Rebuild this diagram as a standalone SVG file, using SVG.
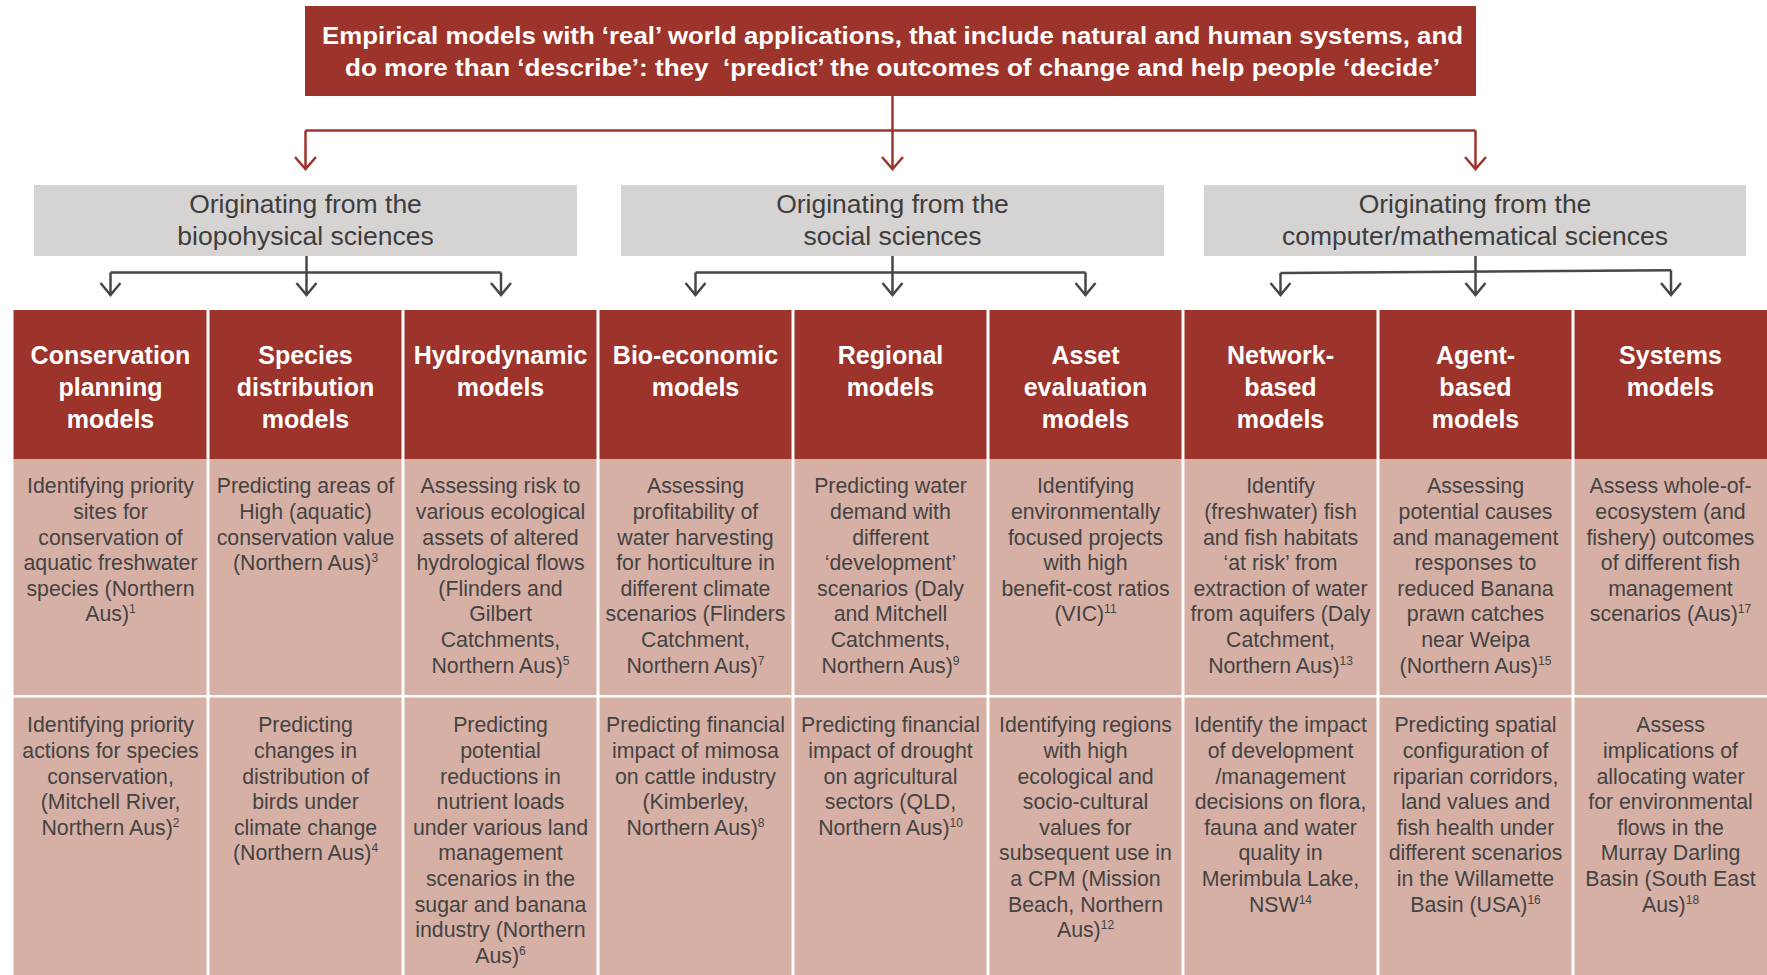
<svg xmlns="http://www.w3.org/2000/svg" width="1767" height="975" viewBox="0 0 1767 975">
<style>
text{font-family:"Liberation Sans",Arial,sans-serif;text-anchor:middle}
.title{font-weight:bold;font-size:24px;fill:#fff}
.grp{font-size:26.5px;fill:#3d3d3d}
.hd{font-weight:bold;font-size:25px;fill:#fff}
.bd{font-size:21.3px;fill:#434343}
.sup{font-size:12px}
.red{fill:#9d342c}
.pink{fill:#d7b0a5}
.gray{fill:#d6d3d3}
.cr{stroke:#9d342c;stroke-width:2.5;fill:none}
.cg{stroke:#474747;stroke-width:2.5;fill:none}
</style>
<defs>
<marker id="arR" markerUnits="userSpaceOnUse" markerWidth="30" markerHeight="30" refX="0" refY="0" orient="auto" overflow="visible">
<path d="M-12,-10.5 L0,0 L-12,10.5" fill="none" stroke="#9d342c" stroke-width="2.5"/>
</marker>
<marker id="arG" markerUnits="userSpaceOnUse" markerWidth="30" markerHeight="30" refX="0" refY="0" orient="auto" overflow="visible">
<path d="M-12,-10 L0,0 L-12,10" fill="none" stroke="#474747" stroke-width="2.5"/>
</marker>
</defs>
<rect width="1767" height="975" fill="#fff"/>

<!-- connectors -->
<g id="connectors">
<path class="cr" d="M892.5,96 V130.5"/>
<path class="cr" d="M305.5,130.5 H1475.5"/>
<path class="cr" d="M305.5,130.5 V169" marker-end="url(#arR)"/>
<path class="cr" d="M892.5,130.5 V169" marker-end="url(#arR)"/>
<path class="cr" d="M1475.5,130.5 V169" marker-end="url(#arR)"/>

<path class="cg" d="M110.5,272.5 H501"/>
<path class="cg" d="M306.5,256 V295" marker-end="url(#arG)"/>
<path class="cg" d="M110.5,272.5 V295" marker-end="url(#arG)"/>
<path class="cg" d="M501,272.5 V295" marker-end="url(#arG)"/>

<path class="cg" d="M695.5,272.5 H1085.5"/>
<path class="cg" d="M892.5,256 V295" marker-end="url(#arG)"/>
<path class="cg" d="M695.5,272.5 V295" marker-end="url(#arG)"/>
<path class="cg" d="M1085.5,272.5 V295" marker-end="url(#arG)"/>

<path class="cg" d="M1280.5,273 L1671,270.3"/>
<path class="cg" d="M1475.5,256 V295" marker-end="url(#arG)"/>
<path class="cg" d="M1280.5,273 V295" marker-end="url(#arG)"/>
<path class="cg" d="M1671,270.3 V295" marker-end="url(#arG)"/>
</g>

<!-- top statement -->
<g id="statement">
<rect class="red" x="305" y="6" width="1171" height="90"/>
<text class="title" x="892.5" y="43.5" textLength="1141" lengthAdjust="spacingAndGlyphs">Empirical models with ‘real’ world applications, that include natural and human systems, and</text>
<text class="title" x="892.5" y="75.5" textLength="1095" lengthAdjust="spacingAndGlyphs">do more than ‘describe’: they&#160; ‘predict’ the outcomes of change and help people ‘decide’</text>
</g>

<!-- discipline groups -->
<g id="origin-biophysical">
<rect class="gray" x="34" y="185" width="543" height="71"/>
<text class="grp" x="305.5" y="213">Originating from the</text>
<text class="grp" x="305.5" y="245">biopohysical sciences</text>
</g>
<g id="origin-social">
<rect class="gray" x="621" y="185" width="543" height="71"/>
<text class="grp" x="892.5" y="213">Originating from the</text>
<text class="grp" x="892.5" y="245">social sciences</text>
</g>
<g id="origin-computer">
<rect class="gray" x="1204" y="185" width="542" height="71"/>
<text class="grp" x="1475" y="213">Originating from the</text>
<text class="grp" x="1475" y="245">computer/mathematical sciences</text>
</g>

<!-- model type headers -->
<g id="hd-conservation">
<rect class="red" x="13.5" y="310" width="193" height="149"/>
<text class="hd" y="364"><tspan x="110.5">Conservation</tspan><tspan x="110.5" dy="32">planning</tspan><tspan x="110.5" dy="32">models</tspan></text>
</g>
<g id="hd-species">
<rect class="red" x="209.5" y="310" width="192" height="149"/>
<text class="hd" y="364"><tspan x="305.5">Species</tspan><tspan x="305.5" dy="32">distribution</tspan><tspan x="305.5" dy="32">models</tspan></text>
</g>
<g id="hd-hydrodynamic">
<rect class="red" x="404.5" y="310" width="192" height="149"/>
<text class="hd" y="364"><tspan x="500.5">Hydrodynamic</tspan><tspan x="500.5" dy="32">models</tspan></text>
</g>
<g id="hd-bioeconomic">
<rect class="red" x="599.5" y="310" width="192" height="149"/>
<text class="hd" y="364"><tspan x="695.5">Bio-economic</tspan><tspan x="695.5" dy="32">models</tspan></text>
</g>
<g id="hd-regional">
<rect class="red" x="794.5" y="310" width="192" height="149"/>
<text class="hd" y="364"><tspan x="890.5">Regional</tspan><tspan x="890.5" dy="32">models</tspan></text>
</g>
<g id="hd-asset">
<rect class="red" x="989.5" y="310" width="192" height="149"/>
<text class="hd" y="364"><tspan x="1085.5">Asset</tspan><tspan x="1085.5" dy="32">evaluation</tspan><tspan x="1085.5" dy="32">models</tspan></text>
</g>
<g id="hd-network">
<rect class="red" x="1184.5" y="310" width="192" height="149"/>
<text class="hd" y="364"><tspan x="1280.5">Network-</tspan><tspan x="1280.5" dy="32">based</tspan><tspan x="1280.5" dy="32">models</tspan></text>
</g>
<g id="hd-agent">
<rect class="red" x="1379.5" y="310" width="192" height="149"/>
<text class="hd" y="364"><tspan x="1475.5">Agent-</tspan><tspan x="1475.5" dy="32">based</tspan><tspan x="1475.5" dy="32">models</tspan></text>
</g>
<g id="hd-systems">
<rect class="red" x="1574.5" y="310" width="193" height="149"/>
<text class="hd" y="364"><tspan x="1670.5">Systems</tspan><tspan x="1670.5" dy="32">models</tspan></text>
</g>

<!-- first row of examples -->
<g id="ex1-conservation">
<rect class="pink" x="13.5" y="459" width="193" height="236"/>
<text class="bd" y="493.3"><tspan x="110.5">Identifying priority</tspan><tspan x="110.5" dy="25.6">sites for</tspan><tspan x="110.5" dy="25.6">conservation of</tspan><tspan x="110.5" dy="25.6">aquatic freshwater</tspan><tspan x="110.5" dy="25.6">species (Northern</tspan><tspan x="110.5" dy="25.6">Aus)<tspan class="sup" dy="-8">1</tspan></tspan></text>
</g>
<g id="ex1-species">
<rect class="pink" x="209.5" y="459" width="192" height="236"/>
<text class="bd" y="493.3"><tspan x="305.5">Predicting areas of</tspan><tspan x="305.5" dy="25.6">High (aquatic)</tspan><tspan x="305.5" dy="25.6">conservation value</tspan><tspan x="305.5" dy="25.6">(Northern Aus)<tspan class="sup" dy="-8">3</tspan></tspan></text>
</g>
<g id="ex1-hydrodynamic">
<rect class="pink" x="404.5" y="459" width="192" height="236"/>
<text class="bd" y="493.3"><tspan x="500.5">Assessing risk to</tspan><tspan x="500.5" dy="25.6">various ecological</tspan><tspan x="500.5" dy="25.6">assets of altered</tspan><tspan x="500.5" dy="25.6">hydrological flows</tspan><tspan x="500.5" dy="25.6">(Flinders and</tspan><tspan x="500.5" dy="25.6">Gilbert</tspan><tspan x="500.5" dy="25.6">Catchments,</tspan><tspan x="500.5" dy="25.6">Northern Aus)<tspan class="sup" dy="-8">5</tspan></tspan></text>
</g>
<g id="ex1-bioeconomic">
<rect class="pink" x="599.5" y="459" width="192" height="236"/>
<text class="bd" y="493.3"><tspan x="695.5">Assessing</tspan><tspan x="695.5" dy="25.6">profitability of</tspan><tspan x="695.5" dy="25.6">water harvesting</tspan><tspan x="695.5" dy="25.6">for horticulture in</tspan><tspan x="695.5" dy="25.6">different climate</tspan><tspan x="695.5" dy="25.6">scenarios (Flinders</tspan><tspan x="695.5" dy="25.6">Catchment,</tspan><tspan x="695.5" dy="25.6">Northern Aus)<tspan class="sup" dy="-8">7</tspan></tspan></text>
</g>
<g id="ex1-regional">
<rect class="pink" x="794.5" y="459" width="192" height="236"/>
<text class="bd" y="493.3"><tspan x="890.5">Predicting water</tspan><tspan x="890.5" dy="25.6">demand with</tspan><tspan x="890.5" dy="25.6">different</tspan><tspan x="890.5" dy="25.6">‘development’</tspan><tspan x="890.5" dy="25.6">scenarios (Daly</tspan><tspan x="890.5" dy="25.6">and Mitchell</tspan><tspan x="890.5" dy="25.6">Catchments,</tspan><tspan x="890.5" dy="25.6">Northern Aus)<tspan class="sup" dy="-8">9</tspan></tspan></text>
</g>
<g id="ex1-asset">
<rect class="pink" x="989.5" y="459" width="192" height="236"/>
<text class="bd" y="493.3"><tspan x="1085.5">Identifying</tspan><tspan x="1085.5" dy="25.6">environmentally</tspan><tspan x="1085.5" dy="25.6">focused projects</tspan><tspan x="1085.5" dy="25.6">with high</tspan><tspan x="1085.5" dy="25.6">benefit-cost ratios</tspan><tspan x="1085.5" dy="25.6">(VIC)<tspan class="sup" dy="-8">11</tspan></tspan></text>
</g>
<g id="ex1-network">
<rect class="pink" x="1184.5" y="459" width="192" height="236"/>
<text class="bd" y="493.3"><tspan x="1280.5">Identify</tspan><tspan x="1280.5" dy="25.6">(freshwater) fish</tspan><tspan x="1280.5" dy="25.6">and fish habitats</tspan><tspan x="1280.5" dy="25.6">‘at risk’ from</tspan><tspan x="1280.5" dy="25.6">extraction of water</tspan><tspan x="1280.5" dy="25.6">from aquifers (Daly</tspan><tspan x="1280.5" dy="25.6">Catchment,</tspan><tspan x="1280.5" dy="25.6">Northern Aus)<tspan class="sup" dy="-8">13</tspan></tspan></text>
</g>
<g id="ex1-agent">
<rect class="pink" x="1379.5" y="459" width="192" height="236"/>
<text class="bd" y="493.3"><tspan x="1475.5">Assessing</tspan><tspan x="1475.5" dy="25.6">potential causes</tspan><tspan x="1475.5" dy="25.6">and management</tspan><tspan x="1475.5" dy="25.6">responses to</tspan><tspan x="1475.5" dy="25.6">reduced Banana</tspan><tspan x="1475.5" dy="25.6">prawn catches</tspan><tspan x="1475.5" dy="25.6">near Weipa</tspan><tspan x="1475.5" dy="25.6">(Northern Aus)<tspan class="sup" dy="-8">15</tspan></tspan></text>
</g>
<g id="ex1-systems">
<rect class="pink" x="1574.5" y="459" width="193" height="236"/>
<text class="bd" y="493.3"><tspan x="1670.5">Assess whole-of-</tspan><tspan x="1670.5" dy="25.6">ecosystem (and</tspan><tspan x="1670.5" dy="25.6">fishery) outcomes</tspan><tspan x="1670.5" dy="25.6">of different fish</tspan><tspan x="1670.5" dy="25.6">management</tspan><tspan x="1670.5" dy="25.6">scenarios (Aus)<tspan class="sup" dy="-8">17</tspan></tspan></text>
</g>

<!-- second row of examples -->
<g id="ex2-conservation">
<rect class="pink" x="13.5" y="697.5" width="193" height="278"/>
<text class="bd" y="732.3"><tspan x="110.5">Identifying priority</tspan><tspan x="110.5" dy="25.6">actions for species</tspan><tspan x="110.5" dy="25.6">conservation,</tspan><tspan x="110.5" dy="25.6">(Mitchell River,</tspan><tspan x="110.5" dy="25.6">Northern Aus)<tspan class="sup" dy="-8">2</tspan></tspan></text>
</g>
<g id="ex2-species">
<rect class="pink" x="209.5" y="697.5" width="192" height="278"/>
<text class="bd" y="732.3"><tspan x="305.5">Predicting</tspan><tspan x="305.5" dy="25.6">changes in</tspan><tspan x="305.5" dy="25.6">distribution of</tspan><tspan x="305.5" dy="25.6">birds under</tspan><tspan x="305.5" dy="25.6">climate change</tspan><tspan x="305.5" dy="25.6">(Northern Aus)<tspan class="sup" dy="-8">4</tspan></tspan></text>
</g>
<g id="ex2-hydrodynamic">
<rect class="pink" x="404.5" y="697.5" width="192" height="278"/>
<text class="bd" y="732.3"><tspan x="500.5">Predicting</tspan><tspan x="500.5" dy="25.6">potential</tspan><tspan x="500.5" dy="25.6">reductions in</tspan><tspan x="500.5" dy="25.6">nutrient loads</tspan><tspan x="500.5" dy="25.6">under various land</tspan><tspan x="500.5" dy="25.6">management</tspan><tspan x="500.5" dy="25.6">scenarios in the</tspan><tspan x="500.5" dy="25.6">sugar and banana</tspan><tspan x="500.5" dy="25.6">industry (Northern</tspan><tspan x="500.5" dy="25.6">Aus)<tspan class="sup" dy="-8">6</tspan></tspan></text>
</g>
<g id="ex2-bioeconomic">
<rect class="pink" x="599.5" y="697.5" width="192" height="278"/>
<text class="bd" y="732.3"><tspan x="695.5">Predicting financial</tspan><tspan x="695.5" dy="25.6">impact of mimosa</tspan><tspan x="695.5" dy="25.6">on cattle industry</tspan><tspan x="695.5" dy="25.6">(Kimberley,</tspan><tspan x="695.5" dy="25.6">Northern Aus)<tspan class="sup" dy="-8">8</tspan></tspan></text>
</g>
<g id="ex2-regional">
<rect class="pink" x="794.5" y="697.5" width="192" height="278"/>
<text class="bd" y="732.3"><tspan x="890.5">Predicting financial</tspan><tspan x="890.5" dy="25.6">impact of drought</tspan><tspan x="890.5" dy="25.6">on agricultural</tspan><tspan x="890.5" dy="25.6">sectors (QLD,</tspan><tspan x="890.5" dy="25.6">Northern Aus)<tspan class="sup" dy="-8">10</tspan></tspan></text>
</g>
<g id="ex2-asset">
<rect class="pink" x="989.5" y="697.5" width="192" height="278"/>
<text class="bd" y="732.3"><tspan x="1085.5">Identifying regions</tspan><tspan x="1085.5" dy="25.6">with high</tspan><tspan x="1085.5" dy="25.6">ecological and</tspan><tspan x="1085.5" dy="25.6">socio-cultural</tspan><tspan x="1085.5" dy="25.6">values for</tspan><tspan x="1085.5" dy="25.6">subsequent use in</tspan><tspan x="1085.5" dy="25.6">a CPM (Mission</tspan><tspan x="1085.5" dy="25.6">Beach, Northern</tspan><tspan x="1085.5" dy="25.6">Aus)<tspan class="sup" dy="-8">12</tspan></tspan></text>
</g>
<g id="ex2-network">
<rect class="pink" x="1184.5" y="697.5" width="192" height="278"/>
<text class="bd" y="732.3"><tspan x="1280.5">Identify the impact</tspan><tspan x="1280.5" dy="25.6">of development</tspan><tspan x="1280.5" dy="25.6">/management</tspan><tspan x="1280.5" dy="25.6">decisions on flora,</tspan><tspan x="1280.5" dy="25.6">fauna and water</tspan><tspan x="1280.5" dy="25.6">quality in</tspan><tspan x="1280.5" dy="25.6">Merimbula Lake,</tspan><tspan x="1280.5" dy="25.6">NSW<tspan class="sup" dy="-8">14</tspan></tspan></text>
</g>
<g id="ex2-agent">
<rect class="pink" x="1379.5" y="697.5" width="192" height="278"/>
<text class="bd" y="732.3"><tspan x="1475.5">Predicting spatial</tspan><tspan x="1475.5" dy="25.6">configuration of</tspan><tspan x="1475.5" dy="25.6">riparian corridors,</tspan><tspan x="1475.5" dy="25.6">land values and</tspan><tspan x="1475.5" dy="25.6">fish health under</tspan><tspan x="1475.5" dy="25.6">different scenarios</tspan><tspan x="1475.5" dy="25.6">in the Willamette</tspan><tspan x="1475.5" dy="25.6">Basin (USA)<tspan class="sup" dy="-8">16</tspan></tspan></text>
</g>
<g id="ex2-systems">
<rect class="pink" x="1574.5" y="697.5" width="193" height="278"/>
<text class="bd" y="732.3"><tspan x="1670.5">Assess</tspan><tspan x="1670.5" dy="25.6">implications of</tspan><tspan x="1670.5" dy="25.6">allocating water</tspan><tspan x="1670.5" dy="25.6">for environmental</tspan><tspan x="1670.5" dy="25.6">flows in the</tspan><tspan x="1670.5" dy="25.6">Murray Darling</tspan><tspan x="1670.5" dy="25.6">Basin (South East</tspan><tspan x="1670.5" dy="25.6">Aus)<tspan class="sup" dy="-8">18</tspan></tspan></text>
</g>
</svg>
